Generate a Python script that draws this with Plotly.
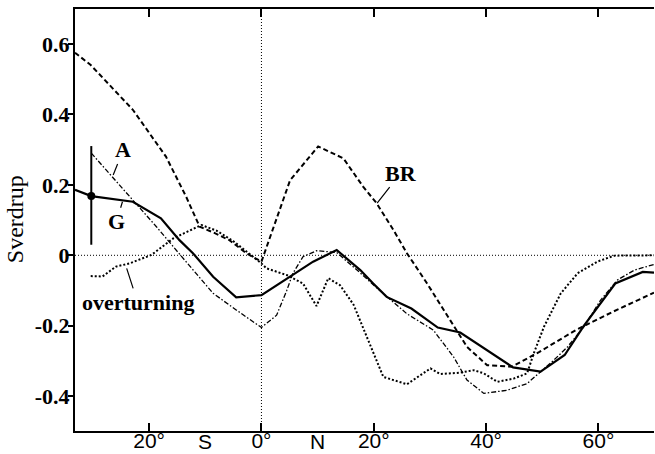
import plotly.graph_objects as go

# ---- data (latitude in degrees, negative = south; transport in Sverdrup) ----
g_lat = [-33.2, -30.3, -22.9, -17.9, -14.6, -12.2, -8.6, -4.5, 0.0, 5.1, 9.2, 13.4,
         17.6, 19.9, 22.3, 26.7, 31.4, 35.4, 40.2, 44.8, 49.7, 54.0, 57.4, 63.0, 67.9, 69.9]
g_sv = [0.186, 0.168, 0.152, 0.105, 0.043, 0.006, -0.061, -0.119, -0.113, -0.061, -0.018, 0.015,
        -0.042, -0.080, -0.118, -0.151, -0.205, -0.219, -0.269, -0.318, -0.330, -0.283, -0.200,
        -0.080, -0.047, -0.049]

a_lat = [-30.3, -22.3, -18.7, -14.4, -8.6, -4.5, 0.0, 2.7, 4.5, 5.6, 7.4, 9.8, 12.2, 13.4,
         17.6, 20.5, 25.9, 30.6, 34.2, 36.6, 39.6, 43.7, 47.3, 49.7, 52.1, 54.5, 57.4, 60.4,
         63.4, 66.4, 69.9]
a_sv = [0.290, 0.148, 0.081, 0.000, -0.108, -0.155, -0.205, -0.170, -0.100, -0.051, -0.004,
        0.013, 0.010, 0.008, -0.050, -0.092, -0.166, -0.212, -0.288, -0.354, -0.392, -0.383,
        -0.364, -0.331, -0.297, -0.260, -0.203, -0.127, -0.070, -0.042, -0.026]

br_lat = [-33.2, -30.4, -22.9, -17.0, -13.4, -11.0, -8.6, -5.7, -2.7, 0.0, 5.1, 10.1, 14.6,
          18.1, 20.5, 23.5, 25.9, 29.5, 33.6, 36.6, 40.2, 44.6, 49.5, 56.0, 62.6, 69.9]
br_sv = [0.575, 0.540, 0.413, 0.280, 0.166, 0.081, 0.065, 0.043, 0.006, -0.018, 0.213, 0.309,
         0.275, 0.195, 0.148, 0.072, 0.006, -0.080, -0.184, -0.260, -0.312, -0.316, -0.274,
         -0.212, -0.160, -0.106]

ot_lat = [-30.4, -28.3, -25.9, -23.5, -19.6, -15.7, -10.7, -8.0, -5.0, -2.7, 0.0, 0.9, 4.5,
          7.4, 9.8, 11.9, 14.0, 16.4, 21.7, 25.9, 30.1, 31.8, 35.4, 37.8, 39.6, 42.0, 44.9,
          47.3, 48.5, 50.3, 53.3, 56.3, 59.8, 62.8, 69.9]
ot_sv = [-0.059, -0.060, -0.032, -0.023, 0.001, 0.048, 0.086, 0.070, 0.040, 0.012, -0.023,
         -0.037, -0.056, -0.080, -0.144, -0.065, -0.085, -0.140, -0.345, -0.366, -0.321,
         -0.337, -0.333, -0.326, -0.335, -0.359, -0.350, -0.335, -0.278, -0.203, -0.108,
         -0.051, -0.018, -0.001, 0.000]

err_lat = [-30.3]
err_sv = [0.168]
err_up = [0.142]
err_down = [0.138]

x_tickvals = [-20, 0, 20, 40, 60]
x_ticktext = ["20°", "0°", "20°", "40°", "60°"]
y_tickvals = [-0.4, -0.2, 0, 0.2, 0.4, 0.6]
y_ticktext = ["-0.4", "-0.2", "0", "0.2", "0.4", "0.6"]

X_RANGE = [-33.2, 69.9]
Y_RANGE = [-0.4986, 0.699]

SERIF = "Liberation Serif"
SANS = "Liberation Sans"

fig = go.Figure()

fig.add_trace(go.Scatter(x=br_lat, y=br_sv, mode="lines", name="BR",
                         line=dict(color="black", width=2, dash="5px,3px")))
fig.add_trace(go.Scatter(x=a_lat, y=a_sv, mode="lines", name="A",
                         line=dict(color="black", width=1.3, dash="5px,2px,1.5px,2px")))
fig.add_trace(go.Scatter(x=ot_lat, y=ot_sv, mode="lines", name="overturning",
                         line=dict(color="black", width=2, dash="2px,2px")))
fig.add_trace(go.Scatter(x=g_lat, y=g_sv, mode="lines", name="G",
                         line=dict(color="black", width=2.2)))
fig.add_trace(go.Scatter(x=err_lat, y=err_sv, mode="markers", name="error",
                         marker=dict(color="black", size=8),
                         error_y=dict(type="data", array=err_up, arrayminus=err_down,
                                      color="black", thickness=2, width=0)))

fig.add_shape(type="line", xref="x", yref="paper", x0=0, x1=0, y0=0, y1=1,
              line=dict(color="black", width=1, dash="1px,2px"), layer="below")
fig.add_shape(type="line", xref="paper", yref="y", x0=0, x1=1, y0=0, y1=0,
              line=dict(color="black", width=1, dash="1px,2px"), layer="below")

ann_font = dict(family=SERIF, size=22, color="black", weight="bold")
labels = [
    dict(text="A", x=-26.4, y=0.228, ax=10, ay=-25),
    dict(text="G", x=-24.75, y=0.152, ax=-6, ay=20),
    dict(text="BR", x=20.6, y=0.148, ax=23.5, ay=-30),
    dict(text="overturning", x=-24.0, y=-0.037, ax=11, ay=34),
]
for lab in labels:
    fig.add_annotation(text=lab["text"], x=lab["x"], y=lab["y"], xref="x", yref="y",
                       ax=lab["ax"], ay=lab["ay"], showarrow=True, arrowhead=0,
                       arrowwidth=1.2, arrowcolor="black", standoff=0, font=ann_font)

for txt, xv in [("S", -10), ("N", 10)]:
    fig.add_annotation(text=txt, x=xv, y=-0.026, xref="x", yref="paper", showarrow=False,
                       xanchor="center", yanchor="middle",
                       font=dict(family=SANS, size=21, color="black"))

fig.add_annotation(text="Sverdrup", textangle=-90, xref="paper", yref="paper",
                   x=-0.1036, y=0.502, xanchor="center", yanchor="middle", showarrow=False,
                   font=dict(family=SERIF, size=24, color="black"))

fig.update_layout(
    width=655, height=454,
    margin=dict(l=75, r=1, t=9, b=23, autoexpand=False),
    paper_bgcolor="white", plot_bgcolor="white",
    showlegend=False,
    xaxis=dict(range=X_RANGE, tickvals=x_tickvals, ticktext=x_ticktext, automargin=False,
               ticks="inside", ticklen=8, tickwidth=2, tickcolor="black",
               ticklabelstandoff=-10,
               showline=True, linewidth=2, linecolor="black", mirror="ticks",
               showgrid=False, zeroline=False,
               tickfont=dict(family=SANS, size=21, color="black")),
    yaxis=dict(range=Y_RANGE, tickvals=y_tickvals, ticktext=y_ticktext, automargin=False,
               ticks="outside", ticklen=5, tickwidth=2, tickcolor="black",
               ticklabelstandoff=-6,
               showline=True, linewidth=2, linecolor="black",
               showgrid=False, zeroline=False,
               tickfont=dict(family=SERIF, size=22, color="black", weight="bold")),
    yaxis2=dict(range=Y_RANGE, overlaying="y", side="right", tickvals=y_tickvals,
                automargin=False,
                ticks="inside", ticklen=9, tickwidth=2, tickcolor="black",
                showticklabels=False, showline=True, linewidth=2, linecolor="black",
                showgrid=False, zeroline=False),
)

fig.write_html("out.html", config={"displayModeBar": False},
               post_script="document.body.style.margin='0';document.body.style.padding='0';"
                           "document.documentElement.style.overflow='hidden';")
